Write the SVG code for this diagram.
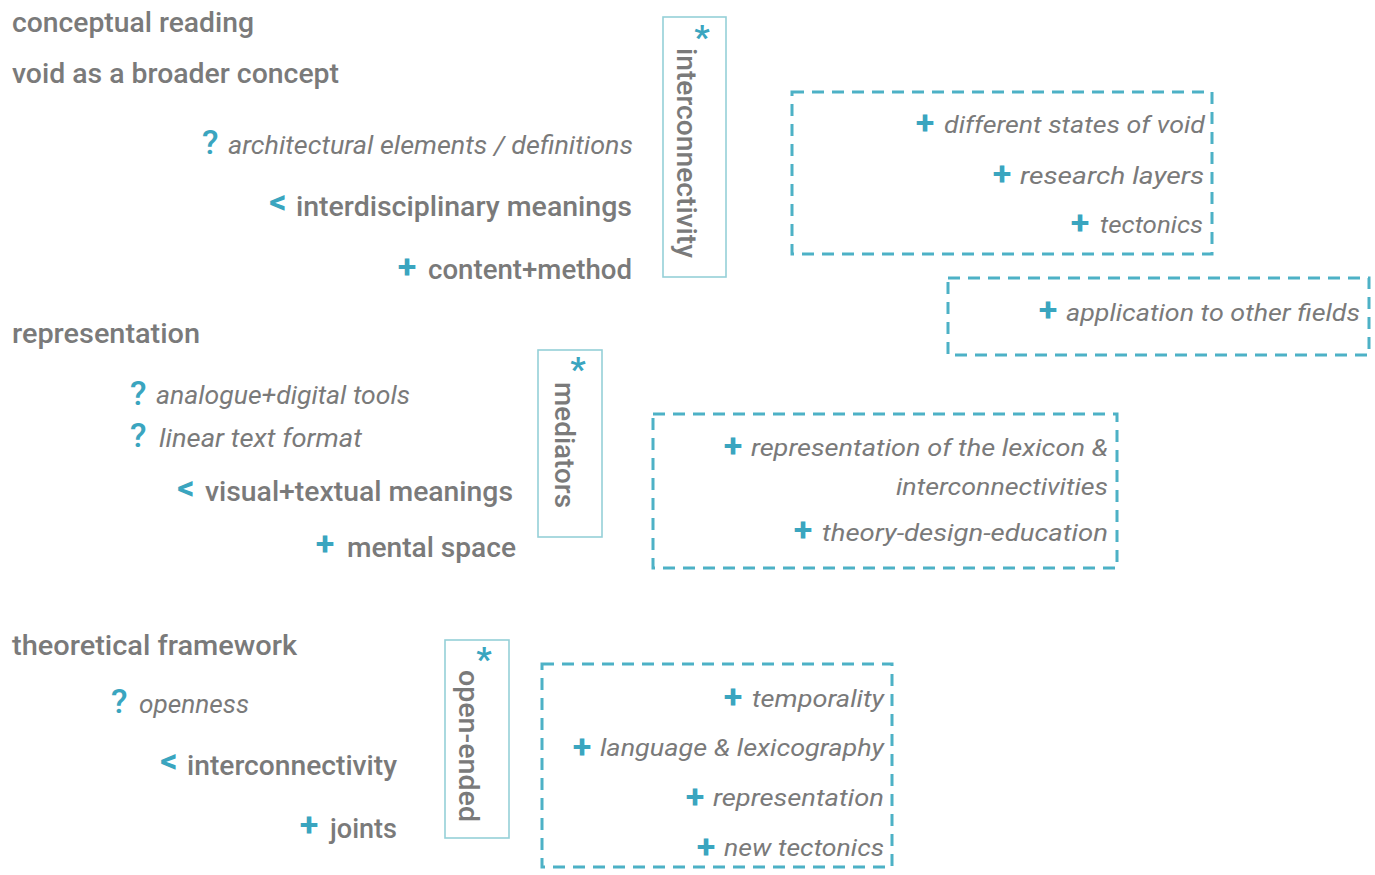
<svg xmlns="http://www.w3.org/2000/svg" width="1375" height="875" viewBox="0 0 1375 875">
  <style>
    text { font-family: Roboto, "Liberation Sans", sans-serif; }
    .t { fill: #7a7a7a; font-size: 28px; font-weight: 500; }
    .i { fill: #7a7a7a; font-size: 25px; font-style: italic; }
    .bi { fill: #7a7a7a; font-size: 24px; font-style: italic; }
    .q { fill: #3aa5bf; font-size: 34px; font-weight: 500; }
    .lt { fill: #3aa5bf; font-size: 34px; font-weight: bold; text-anchor: middle; }
    .pl { fill: #3aa5bf; font-size: 34px; font-weight: bold; text-anchor: middle; }
    .ast { fill: #3aa5bf; font-size: 34px; font-weight: bold; text-anchor: middle; }
    .solid { fill: none; stroke: #95d0d8; stroke-width: 1.6; }
    .dash { fill: none; stroke: #4db1c6; stroke-width: 3; stroke-dasharray: 12 8; }
  </style>

  <!-- section 1: conceptual reading -->
  <g id="conceptual-reading">
    <text class="t" x="12" y="32" textLength="242" lengthAdjust="spacingAndGlyphs">conceptual reading</text>
    <text class="t" x="12" y="83" textLength="327" lengthAdjust="spacingAndGlyphs">void as a broader concept</text>
    <text class="q" x="202" y="154">?</text>
    <text class="i" x="228" y="154" textLength="405" lengthAdjust="spacingAndGlyphs">architectural elements / definitions</text>
    <text class="lt" x="278" y="213">&lt;</text>
    <text class="t" x="296" y="216" textLength="336" lengthAdjust="spacingAndGlyphs">interdisciplinary meanings</text>
    <text class="pl" x="407" y="278">+</text>
    <text class="t" x="428" y="279" textLength="204" lengthAdjust="spacingAndGlyphs">content+method</text>
  </g>

  <g id="interconnectivity-box">
    <rect class="solid" x="663" y="17" width="63" height="260"/>
    <text class="ast" x="702" y="49">*</text>
    <text class="t" transform="translate(677,48) rotate(90)" textLength="210" lengthAdjust="spacingAndGlyphs">interconnectivity</text>
  </g>

  <g id="void-states">
    <rect class="dash" x="792" y="92" width="420" height="162"/>
    <text class="pl" x="925" y="134">+</text>
    <text class="bi" x="944" y="133" textLength="261" lengthAdjust="spacingAndGlyphs">different states of void</text>
    <text class="pl" x="1002" y="185">+</text>
    <text class="bi" x="1020" y="184" textLength="184" lengthAdjust="spacingAndGlyphs">research layers</text>
    <text class="pl" x="1080" y="234">+</text>
    <text class="bi" x="1100" y="233" textLength="103" lengthAdjust="spacingAndGlyphs">tectonics</text>
  </g>

  <g id="other-fields">
    <rect class="dash" x="948" y="278" width="421" height="77"/>
    <text class="pl" x="1048" y="321">+</text>
    <text class="bi" x="1066" y="321" textLength="294" lengthAdjust="spacingAndGlyphs">application to other fields</text>
  </g>

  <!-- section 2: representation -->
  <g id="representation">
    <text class="t" x="12" y="343" textLength="188" lengthAdjust="spacingAndGlyphs">representation</text>
    <text class="q" x="130" y="405">?</text>
    <text class="i" x="156" y="404" textLength="254" lengthAdjust="spacingAndGlyphs">analogue+digital tools</text>
    <text class="q" x="130" y="447">?</text>
    <text class="i" x="159" y="447" textLength="203" lengthAdjust="spacingAndGlyphs">linear text format</text>
    <text class="lt" x="186" y="499">&lt;</text>
    <text class="t" x="205" y="501" textLength="308" lengthAdjust="spacingAndGlyphs">visual+textual meanings</text>
    <text class="pl" x="325" y="555">+</text>
    <text class="t" x="347" y="557" textLength="169" lengthAdjust="spacingAndGlyphs">mental space</text>
  </g>

  <g id="mediators-box">
    <rect class="solid" x="538" y="350" width="64" height="187"/>
    <text class="ast" x="578" y="381">*</text>
    <text class="t" transform="translate(555,382) rotate(90)" textLength="126" lengthAdjust="spacingAndGlyphs">mediators</text>
  </g>

  <g id="lexicon">
    <rect class="dash" x="653" y="414" width="464" height="154"/>
    <text class="pl" x="733" y="457">+</text>
    <text class="bi" x="751" y="456" textLength="357" lengthAdjust="spacingAndGlyphs">representation of the lexicon &amp;</text>
    <text class="bi" x="896" y="495" textLength="212" lengthAdjust="spacingAndGlyphs">interconnectivities</text>
    <text class="pl" x="803" y="541">+</text>
    <text class="bi" x="822" y="541" textLength="286" lengthAdjust="spacingAndGlyphs">theory-design-education</text>
  </g>

  <!-- section 3: theoretical framework -->
  <g id="theoretical-framework">
    <text class="t" x="12" y="655" textLength="285" lengthAdjust="spacingAndGlyphs">theoretical framework</text>
    <text class="q" x="111" y="713">?</text>
    <text class="i" x="139" y="713" textLength="110" lengthAdjust="spacingAndGlyphs">openness</text>
    <text class="lt" x="169" y="772">&lt;</text>
    <text class="t" x="187" y="775" textLength="210" lengthAdjust="spacingAndGlyphs">interconnectivity</text>
    <text class="pl" x="309" y="836">+</text>
    <text class="t" x="330" y="838" textLength="67" lengthAdjust="spacingAndGlyphs">joints</text>
  </g>

  <g id="open-ended-box">
    <rect class="solid" x="445" y="640" width="64" height="198"/>
    <text class="ast" x="484" y="671">*</text>
    <text class="t" transform="translate(459,670) rotate(90)" textLength="152" lengthAdjust="spacingAndGlyphs">open-ended</text>
  </g>

  <g id="new-tectonics">
    <rect class="dash" x="542" y="664" width="350" height="203"/>
    <text class="pl" x="733" y="708">+</text>
    <text class="bi" x="752" y="707" textLength="132" lengthAdjust="spacingAndGlyphs">temporality</text>
    <text class="pl" x="582" y="758">+</text>
    <text class="bi" x="600" y="756" textLength="284" lengthAdjust="spacingAndGlyphs">language &amp; lexicography</text>
    <text class="pl" x="695" y="808">+</text>
    <text class="bi" x="713" y="806" textLength="171" lengthAdjust="spacingAndGlyphs">representation</text>
    <text class="pl" x="706" y="858">+</text>
    <text class="bi" x="724" y="856" textLength="160" lengthAdjust="spacingAndGlyphs">new tectonics</text>
  </g>

  <!-- no connectors are drawn between the groups -->
  <g id="connectors"></g>
</svg>
